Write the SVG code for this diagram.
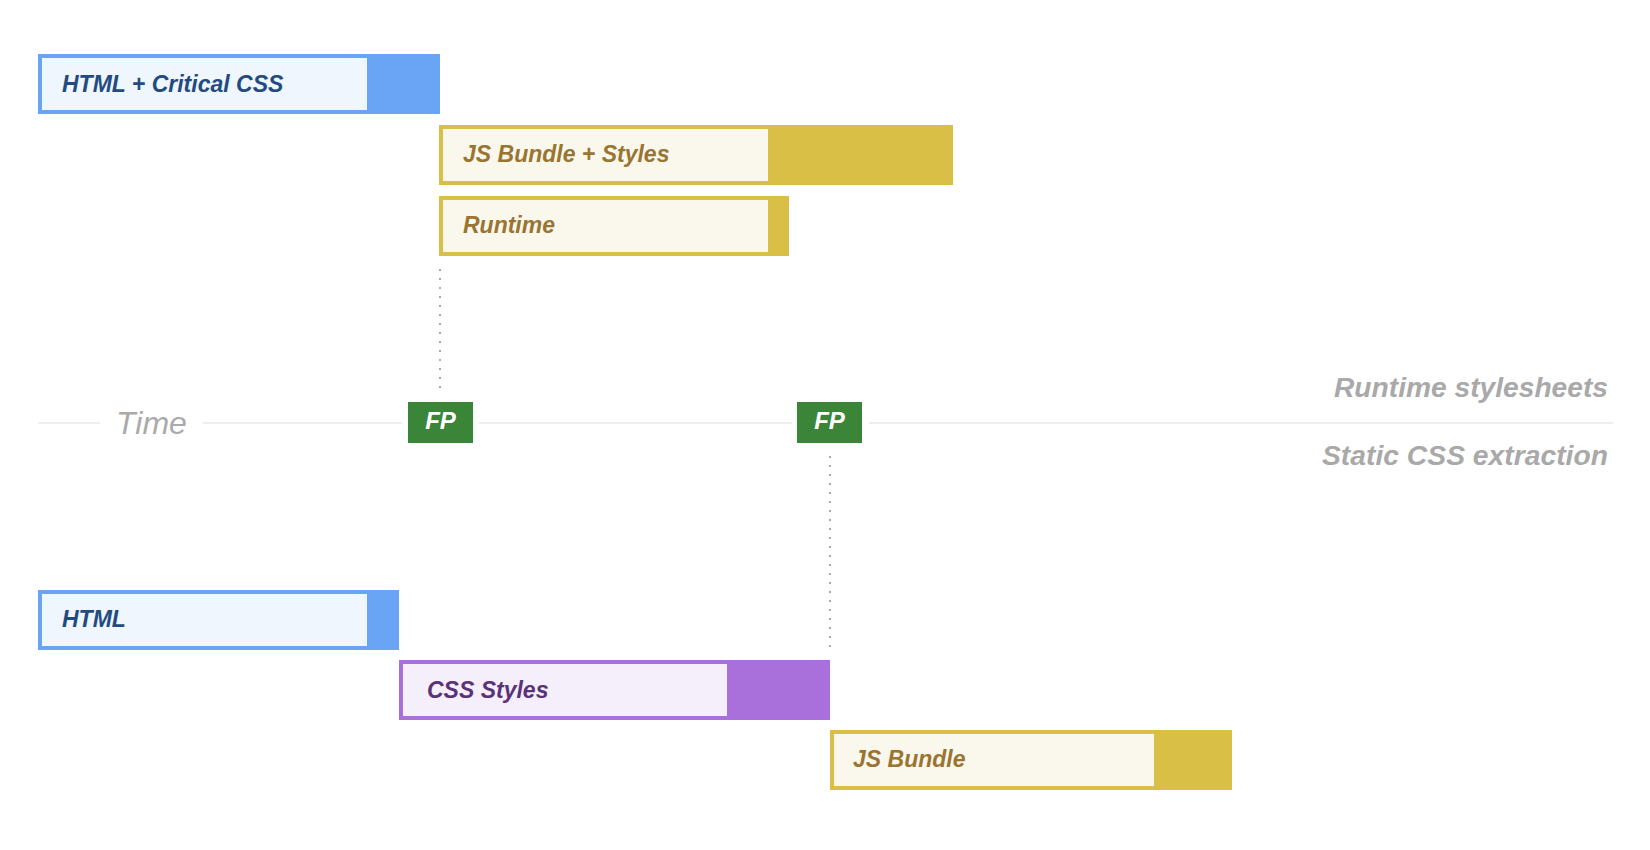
<svg xmlns="http://www.w3.org/2000/svg" width="1650" height="850" viewBox="0 0 1650 850">
<style>
.lbl{font-family:"Liberation Sans",Arial,sans-serif;font-weight:bold;font-style:italic;font-size:23px}
.blue-o{fill:#69a5f4}.blue-i{fill:#eff6fe}.blue-t{fill:#244b80}
.yel-o{fill:#d9bf46}.yel-i{fill:#faf8ec}.yel-t{fill:#9a7431}
.pur-o{fill:#a970dc}.pur-i{fill:#f5effb}.pur-t{fill:#5a3277}
.fp{fill:#3a8538}
.fpt{font-family:"Liberation Sans",Arial,sans-serif;font-weight:bold;font-style:italic;font-size:24px;fill:#ffffff}
.side{font-family:"Liberation Sans",Arial,sans-serif;font-weight:bold;font-style:italic;font-size:27px;fill:#a9a9a9}
.time{font-family:"Liberation Sans",Arial,sans-serif;font-style:italic;font-size:32px;fill:#aaaaaa}
.axis{stroke:#eeeeee;stroke-width:2;fill:none}
.dots{stroke:#aaaaaa;stroke-width:2;stroke-dasharray:2 7;fill:none}
</style>
<rect width="1650" height="850" fill="#ffffff"/>
<g id="connectors">
<path class="axis" d="M38 423H100M203 423H402M479 423H792M869 423H1613"/>
<path class="dots" d="M440 269V390"/>
<path class="dots" d="M830 456V648"/>
</g>
<g id="axis-label"><text class="time" x="116" y="434">Time</text></g>
<g id="html-critical-css">
<rect class="blue-o" x="38" y="54" width="402" height="60"/>
<rect class="blue-i" x="42" y="58" width="325" height="52"/>
<text class="lbl blue-t" x="62" y="92">HTML + Critical CSS</text>
</g>
<g id="js-bundle-styles">
<rect class="yel-o" x="439" y="125" width="514" height="60"/>
<rect class="yel-i" x="443" y="129" width="325" height="52"/>
<text class="lbl yel-t" x="463" y="162">JS Bundle + Styles</text>
</g>
<g id="runtime">
<rect class="yel-o" x="439" y="196" width="350" height="60"/>
<rect class="yel-i" x="443" y="200" width="325" height="52"/>
<text class="lbl yel-t" x="463" y="233">Runtime</text>
</g>
<g id="fp1">
<rect class="fp" x="408" y="402" width="65" height="41"/>
<text class="fpt" x="440.5" y="429" text-anchor="middle">FP</text>
</g>
<g id="fp2">
<rect class="fp" x="797" y="402" width="65" height="41"/>
<text class="fpt" x="829.5" y="429" text-anchor="middle">FP</text>
</g>
<g id="runtime-stylesheets"><text class="side" x="1608" y="397" text-anchor="end" textLength="274" lengthAdjust="spacingAndGlyphs">Runtime stylesheets</text></g>
<g id="static-css-extraction"><text class="side" x="1608" y="465" text-anchor="end" textLength="286" lengthAdjust="spacingAndGlyphs">Static CSS extraction</text></g>
<g id="html">
<rect class="blue-o" x="38" y="590" width="361" height="60"/>
<rect class="blue-i" x="42" y="594" width="325" height="52"/>
<text class="lbl blue-t" x="62" y="627">HTML</text>
</g>
<g id="css-styles">
<rect class="pur-o" x="399" y="660" width="431" height="60"/>
<rect class="pur-i" x="403" y="664" width="324" height="52"/>
<text class="lbl pur-t" x="427" y="698">CSS Styles</text>
</g>
<g id="js-bundle">
<rect class="yel-o" x="830" y="730" width="402" height="60"/>
<rect class="yel-i" x="834" y="734" width="320" height="52"/>
<text class="lbl yel-t" x="853" y="767">JS Bundle</text>
</g>
</svg>
